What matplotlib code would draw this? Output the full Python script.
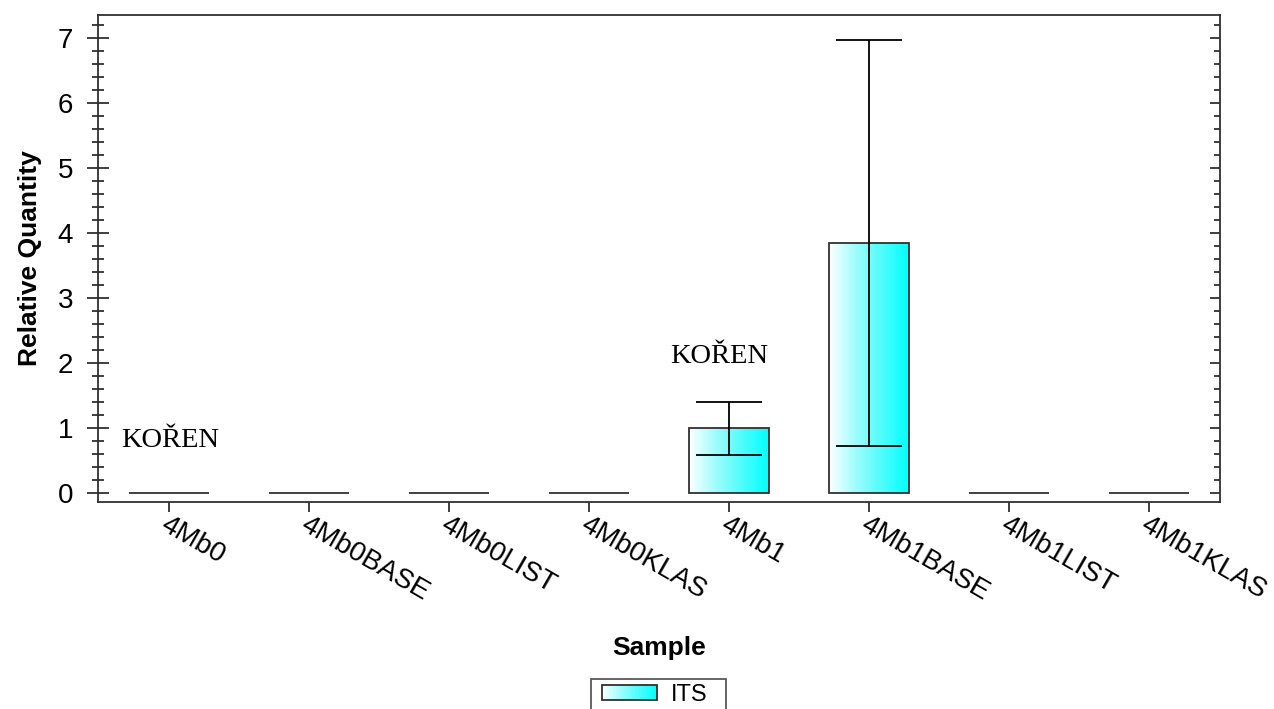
import numpy as np
import matplotlib
matplotlib.use("Agg")
import matplotlib.pyplot as plt
from matplotlib.patches import Rectangle
from matplotlib.legend_handler import HandlerBase
from matplotlib.ticker import MultipleLocator
from matplotlib.colors import LinearSegmentedColormap

samples = ["4Mb0", "4Mb0BASE", "4Mb0LIST", "4Mb0KLAS", "4Mb1", "4Mb1BASE", "4Mb1LIST", "4Mb1KLAS"]
rq = [0, 0, 0, 0, 1.0, 3.84, 0, 0]
rq_low = [0, 0, 0, 0, 0.58, 0.72, 0, 0]
rq_high = [0, 0, 0, 0, 1.40, 6.97, 0, 0]
series_name = "ITS"
notes = ["KOŘEN", "KOŘEN"]
note_x = [0.01, 3.93]
note_y = [0.80, 2.10]

plt.rcParams['font.family'] = ['Liberation Sans', 'DejaVu Sans']

grad = LinearSegmentedColormap.from_list("g", ["#ffffff", "#9ffdfd", "#4ffcfc", "#00ffff"])
edge = "#303030"

fig = plt.figure(figsize=(12.74, 7.09), dpi=100)
ax = fig.add_axes([98/1274, 1-502/709, (1220-98)/1274, (502-15)/709])

x = np.arange(len(samples))
bars = ax.bar(x, rq, width=0.57, facecolor='none', edgecolor=edge, linewidth=1.3, zorder=3)
gimg = np.linspace(0, 1, 256).reshape(1, -1)
for b in bars:
    h = b.get_height()
    if h > 0:
        x0 = b.get_x(); w = b.get_width()
        im = ax.imshow(gimg, cmap=grad, extent=[x0, x0 + w, 0, h], aspect='auto',
                       interpolation='bilinear', zorder=2)
        im.set_clip_path(b)

vals = np.array(rq)
lo = vals - np.array(rq_low)
hi = np.array(rq_high) - vals
mask = vals > 0
ax.errorbar(x[mask], vals[mask], yerr=[lo[mask], hi[mask]], fmt='none', ecolor='black',
            elinewidth=1.3, capsize=23.5, capthick=1.3, zorder=4)

ax.set_xlim(-0.507, 7.507)
ax.set_ylim(-0.138, 7.35)

for s in ax.spines.values():
    s.set_color(edge)
    s.set_linewidth(1.3)

ax.set_xticks(x)
ax.set_xticklabels(samples, rotation=-30, ha='left', va='top', rotation_mode='anchor', fontsize=20)
ax.tick_params(axis='x', direction='out', length=7, width=1.3, color=edge, pad=0)
ax.yaxis.set_major_locator(MultipleLocator(1))
ax.yaxis.set_minor_locator(MultipleLocator(0.2))
ax.tick_params(axis='y', which='major', direction='inout', length=16, width=1.3, color=edge, labelsize=20, pad=10)
ax.tick_params(axis='y', which='minor', direction='inout', length=9, width=1.3, color=edge)

ax2 = ax.twinx()
ax2.set_ylim(ax.get_ylim())
ax2.yaxis.set_major_locator(MultipleLocator(1))
ax2.yaxis.set_minor_locator(MultipleLocator(0.2))
ax2.tick_params(axis='y', which='major', direction='in', length=7.5, width=1.3, color=edge, labelright=False)
ax2.tick_params(axis='y', which='minor', direction='in', length=4, width=1.3, color=edge)
for s in ax2.spines.values():
    s.set_visible(False)

ax.set_ylabel("Relative Quantity", fontsize=19, fontweight='bold', labelpad=11)
ax.set_xlabel("Sample", fontsize=19, fontweight='bold', labelpad=0)
ax.xaxis.set_label_coords(0.5, -(648-502)/487, transform=ax.transAxes)
ax.xaxis.label.set_va('center')

for t, nx, ny in zip(notes, note_x, note_y):
    ax.text(nx, ny, t, ha='center', va='center', fontsize=20.5, family='Liberation Serif', zorder=5)


class GradHandler(HandlerBase):
    xoff = 4.5

    def create_artists(self, legend, orig_handle, xdescent, ydescent, width, height, fontsize, trans):
        arts = []
        n = 40
        x0 = -xdescent + self.xoff
        w = width - self.xoff
        for i in range(n):
            r = Rectangle((x0 + w * i / n, -ydescent), w / n + 0.3, height,
                          facecolor=grad((i + 0.5) / n), edgecolor='none', transform=trans)
            arts.append(r)
        arts.append(Rectangle((x0, -ydescent), w, height, facecolor='none',
                              edgecolor=edge, linewidth=1.3, transform=trans))
        return arts


proxy = Rectangle((0, 0), 1, 1)
top = 1 - 679/709
leg = fig.legend([proxy], [series_name], loc='upper left',
                 bbox_to_anchor=(591/1274, top - 0.06, 135/1274, 0.06), mode='expand',
                 fancybox=False, edgecolor=edge, fontsize=17, handlelength=2.6, handleheight=0.6,
                 borderpad=0.2, borderaxespad=0, handletextpad=0.57,
                 handler_map={Rectangle: GradHandler()})
leg.get_frame().set_linewidth(1.3)

fig.savefig("out.png", dpi=100)
